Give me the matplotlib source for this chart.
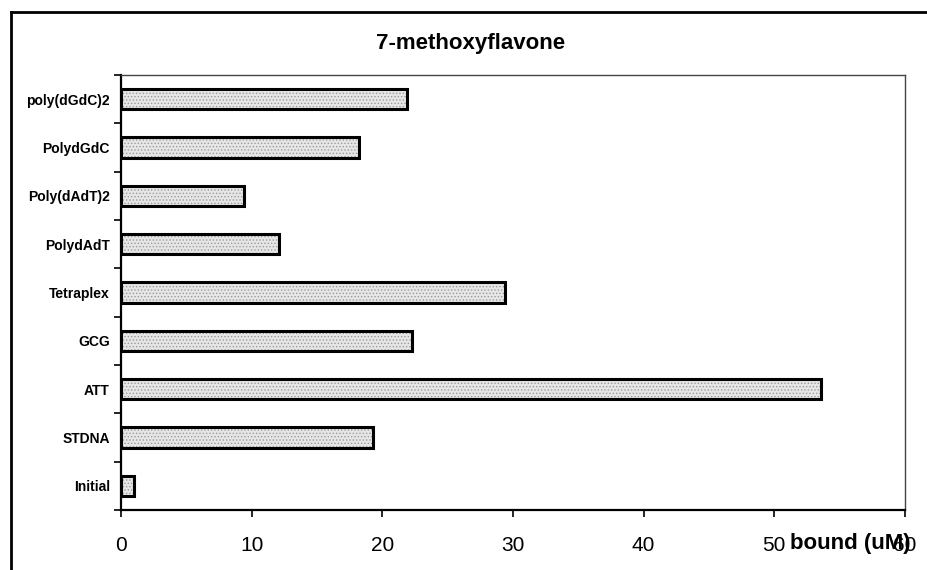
import matplotlib
matplotlib.use("Agg")
import matplotlib.pyplot as plt
from matplotlib.lines import Line2D
import numpy as np

categories = ["Initial", "STDNA", "ATT", "GCG", "Tetraplex", "PolydAdT",
              "Poly(dAdT)2", "PolydGdC", "poly(dGdC)2"]
values = [1.0, 19.3, 53.6, 22.3, 29.4, 12.1, 9.4, 18.2, 21.9]
xticks = [0, 10, 20, 30, 40, 50, 60]
title = "7-methoxyflavone"
xlabel = "bound (uM)"

plt.rcParams['font.family'] = ['Liberation Sans', 'DejaVu Sans']
plt.rcParams['hatch.linewidth'] = 0.6

fig = plt.figure(figsize=(9.28, 5.70), dpi=100)
ax = fig.add_axes([121/928, 1-510/570, (905-121)/928, (510-75)/570])

y = np.arange(len(categories))
# stippled fill
ax.barh(y, values, height=0.42, color='#e6e6e6', edgecolor='#9a9a9a',
        hatch='.....', linewidth=0, zorder=2)
# black outline
ax.barh(y, values, height=0.42, fill=False, edgecolor='black',
        linewidth=2.2, zorder=3)

ax.set_xlim(0, 60)
ax.set_ylim(-0.5, len(categories) - 0.5)
ax.set_xticks(xticks)
ax.set_xticklabels([str(t) for t in xticks], fontsize=15)
ax.set_yticks(y)
ax.set_yticklabels(categories, fontsize=10, fontweight='bold')
ax.set_yticks(np.arange(-0.5, len(categories), 1.0), minor=True)
ax.tick_params(axis='y', which='major', length=0, pad=8)
ax.tick_params(axis='y', which='minor', length=5, direction='out', width=1.2)
ax.tick_params(axis='x', which='major', length=5, direction='out', width=1.2, pad=14)

for s in ['left', 'bottom']:
    ax.spines[s].set_linewidth(1.6)
    ax.spines[s].set_color('black')
for s in ['top', 'right']:
    ax.spines[s].set_linewidth(1.0)
    ax.spines[s].set_color('#444444')

fig.text(471/928, 1-44/570, title, ha='center', va='center',
         fontsize=16, fontweight='bold')
fig.text(850/928, 1-544/570, xlabel, ha='center', va='center',
         fontsize=16, fontweight='bold')

# outer frame (left and top edges)
fig.add_artist(Line2D([11/928, 11/928], [0, 1-12/570], transform=fig.transFigure,
                      color='black', linewidth=2.0))
fig.add_artist(Line2D([11/928, 1], [1-12/570, 1-12/570], transform=fig.transFigure,
                      color='black', linewidth=2.0))

fig.savefig("out.png", dpi=100)
